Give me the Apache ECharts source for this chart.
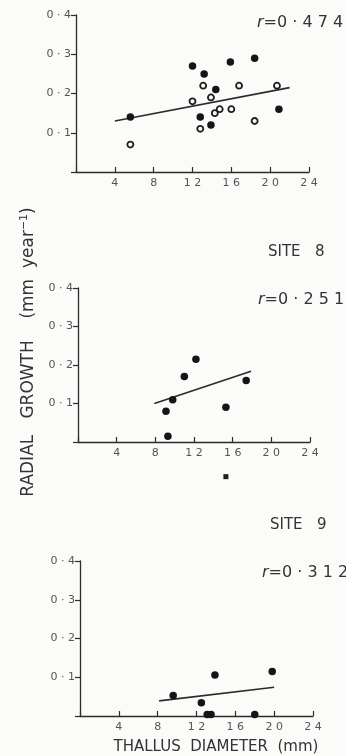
<!DOCTYPE html>
<html>
<head>
<meta charset="utf-8">
<script src="https://cdn.jsdelivr.net/npm/echarts@6/dist/echarts.min.js"></script>
<style>
html,body{margin:0;padding:0;background:#fbfbfa;}
#chart{width:346px;height:756px;}
</style>
</head>
<body>
<div id="chart"></div>
<script>
// ---- data ----
var xTickLabels = ['', '4', '8', '1 2', '1 6', '2 0', '2 4'];
var yTickLabels = ['', '0 · 1', '0 · 2', '0 · 3', '0 · 4'];

// top panel (site 7): filled and open symbols
var site7FilledX = [5.6, 12.0, 13.2, 14.4, 15.9, 18.4, 12.8, 13.9, 20.9];
var site7FilledY = [0.14, 0.27, 0.25, 0.21, 0.28, 0.29, 0.14, 0.12, 0.16];
var site7OpenX = [5.6, 12.0, 13.1, 13.9, 12.8, 14.3, 14.8, 16.0, 16.8, 18.4, 20.7];
var site7OpenY = [0.07, 0.18, 0.22, 0.19, 0.11, 0.15, 0.16, 0.16, 0.22, 0.13, 0.22];
var site7FitX = [4, 22];
var site7FitY = [0.13, 0.215];

// site 8
var site8X = [9.1, 9.3, 9.8, 11.0, 12.2, 15.3, 17.4];
var site8Y = [0.08, 0.015, 0.11, 0.17, 0.215, 0.09, 0.16];
var site8OutlierX = [15.3];
var site8OutlierY = [-0.09];
var site8FitX = [7.9, 17.9];
var site8FitY = [0.10, 0.184];

// site 9
var site9X = [9.6, 12.5, 13.9, 19.8, 13.1, 13.5, 18.0];
var site9Y = [0.053, 0.034, 0.106, 0.115, 0.004, 0.004, 0.004];
var site9FitX = [8.15, 20.0];
var site9FitY = [0.039, 0.074];

var rLabels = ['0·474', '0·251', '0·312'];
var siteLabels = ['SITE   8', 'SITE   9'];
var xTitle = 'THALLUS  DIAMETER  (mm)';
var yTitle = 'RADIAL   GROWTH    (mm  year';

// ---- helpers ----
function pairs(xs, ys) { return xs.map(function (x, i) { return [x, ys[i]]; }); }
var FONT = 'DejaVu Sans';
var INK = '#2b2b2b';
var TXT = '#555';

function xAxisFor(i) {
  return {
    gridIndex: i, type: 'value', min: 0, max: 24, interval: 4,
    axisLine: { show: true, onZero: false, lineStyle: { color: INK, width: 1.3 } },
    axisTick: { show: true, inside: true, length: 5, lineStyle: { color: INK, width: 1.2 } },
    axisLabel: { color: TXT, fontFamily: FONT, fontSize: 11, margin: 6,
      formatter: function (v) { return xTickLabels[Math.round(v / 4)]; } },
    splitLine: { show: false }
  };
}
function yAxisFor(i) {
  return {
    gridIndex: i, type: 'value', min: 0, max: 0.4, interval: 0.1,
    axisLine: { show: true, onZero: false, lineStyle: { color: INK, width: 1.3 } },
    axisTick: { show: true, inside: false, length: 5, lineStyle: { color: INK, width: 1.2 } },
    axisLabel: { color: TXT, fontFamily: FONT, fontSize: 11, margin: 5,
      formatter: function (v) { return yTickLabels[Math.round(v * 10)]; } },
    splitLine: { show: false }
  };
}
function filled(i, data) {
  return { type: 'scatter', xAxisIndex: i, yAxisIndex: i, data: data, symbol: 'circle',
    symbolSize: 7.5, clip: false, itemStyle: { color: '#151515', opacity: 1 }, z: 5 };
}
function fit(i, xs, ys) {
  return { type: 'line', xAxisIndex: i, yAxisIndex: i, data: pairs(xs, ys), symbol: 'none',
    lineStyle: { color: INK, width: 1.6 }, z: 3 };
}
function rText(i, left, top) {
  return { type: 'text', left: left, top: top,
    style: { text: '{i|r}=0 · ' + rLabels[i].slice(2).split('').join(' '),
      font: '16px ' + FONT, fill: '#333',
      rich: { i: { fontStyle: 'italic', fontSize: 16, fontFamily: FONT, fill: '#333' } } } };
}

var option = {
  backgroundColor: '#fbfbfa',
  animation: false,
  grid: [
    { left: 76, top: 15, width: 233, height: 157 },
    { left: 78, top: 288, width: 232, height: 154 },
    { left: 80, top: 561, width: 233, height: 155 }
  ],
  xAxis: [xAxisFor(0), xAxisFor(1), xAxisFor(2)],
  yAxis: [yAxisFor(0), yAxisFor(1), yAxisFor(2)],
  series: [
    fit(0, site7FitX, site7FitY),
    filled(0, pairs(site7FilledX, site7FilledY)),
    { type: 'scatter', xAxisIndex: 0, yAxisIndex: 0, data: pairs(site7OpenX, site7OpenY),
      symbol: 'circle', symbolSize: 6, clip: false,
      itemStyle: { color: '#fbfbfa', borderColor: '#1e1e1e', borderWidth: 1.8, opacity: 1 }, z: 6 },
    fit(1, site8FitX, site8FitY),
    filled(1, pairs(site8X, site8Y)),
    { type: 'scatter', xAxisIndex: 1, yAxisIndex: 1, data: pairs(site8OutlierX, site8OutlierY),
      symbol: 'rect', symbolSize: 5, clip: false, itemStyle: { color: '#1e1e1e', opacity: 1 } },
    fit(2, site9FitX, site9FitY),
    filled(2, pairs(site9X, site9Y))
  ],
  graphic: [
    rText(0, 257, 15),
    rText(1, 258, 292),
    rText(2, 262, 565),
    { type: 'text', left: 268, top: 245, style: { text: siteLabels[0], font: '15px ' + FONT, fill: '#333' } },
    { type: 'text', left: 270, top: 518, style: { text: siteLabels[1], font: '15px ' + FONT, fill: '#333' } },
    { type: 'text', x: 216, y: 747, style: { text: xTitle, font: '15px ' + FONT, fill: '#333',
      align: 'center', verticalAlign: 'middle' } },
    { type: 'text', x: 29, y: 352, rotation: Math.PI / 2,
      style: { text: '{a|' + yTitle + '}{s|−1}{a|)}', align: 'center', verticalAlign: 'middle',
        rich: { a: { fontSize: 17, fontFamily: FONT, fill: '#333' },
                s: { fontSize: 11, fontFamily: FONT, fill: '#333', verticalAlign: 'top', padding: [0, 0, 9, 0] } } } }
  ]
};
var chart = echarts.init(document.getElementById('chart'), null, { renderer: 'canvas' });
chart.setOption(option);
</script>
</body>
</html>
